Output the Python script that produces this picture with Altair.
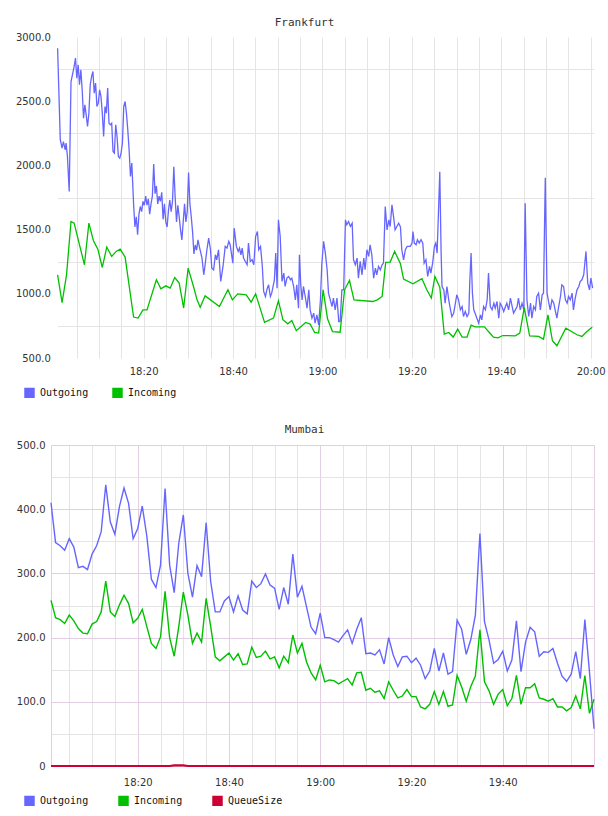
import altair as alt
import pandas as pd

DAY = "2024-01-01"

# ---------------- Frankfurt ----------------
# (minutes after 18:00:45, messages)
FRA_START = "18:00:45"
FRA_OUT = [
    (0.0, 2913), (0.6, 2200), (1.0, 2134), (1.3, 2186), (1.7, 2121), (1.9, 2174), (2.2, 2069), (2.6, 1797),
    (3.0, 2653), (3.4, 2719), (3.7, 2770), (4.0, 2836), (4.3, 2680), (4.6, 2783), (4.9, 2628), (5.2, 2745),
    (5.5, 2589), (5.8, 2368), (6.1, 2472), (6.4, 2394), (6.7, 2303), (7.0, 2407), (7.3, 2628), (7.6, 2692),
    (7.9, 2731), (8.2, 2563), (8.5, 2641), (8.8, 2459), (9.1, 2485), (9.4, 2589), (9.7, 2537), (10.0, 2407),
    (10.3, 2225), (10.6, 2459), (10.9, 2407), (11.2, 2602), (11.5, 2329), (11.8, 2316), (12.1, 2329),
    (12.4, 2108), (12.7, 2096), (13.0, 2316), (13.3, 2225), (13.6, 2069), (13.9, 2056), (14.2, 2096),
    (14.5, 2174), (14.8, 2459), (15.1, 2498), (15.4, 2407), (15.7, 2277), (16.0, 2121), (16.3, 1914),
    (16.6, 2018), (16.9, 1784),
    (17.0, 1700), (17.3, 1520), (17.6, 1600), (17.9, 1460), (18.2, 1620), (18.5, 1680), (18.8, 1640),
    (19.1, 1720), (19.4, 1690), (19.7, 1760), (20.0, 1690), (20.3, 1740), (20.6, 1620), (20.9, 1700),
    (21.2, 1760), (21.5, 2010), (21.8, 1780), (22.1, 1840), (22.4, 1700), (22.7, 1760), (23.0, 1720),
    (23.3, 1790), (23.6, 1580), (23.9, 1700), (24.2, 1560), (24.5, 1520), (24.8, 1650), (25.1, 1730),
    (25.4, 1640), (25.7, 1720), (26.0, 1990), (26.3, 1750), (26.6, 1560), (26.9, 1690), (27.2, 1600),
    (27.5, 1500), (27.8, 1420), (28.1, 1560), (28.4, 1700), (28.7, 1560), (29.0, 1640), (29.3, 1945),
    (29.6, 1700), (29.9, 1600), (30.2, 1480), (30.5, 1310), (30.8, 1380), (31.1, 1340), (31.4, 1420),
    (31.7, 1370),
    (32.3, 1278), (32.7, 1148), (33.0, 1226), (33.4, 1343), (33.8, 1433), (34.2, 1343), (34.5, 1200),
    (34.9, 1187), (35.3, 1304), (35.6, 1265), (36.0, 1343), (36.5, 1096), (37.0, 1213), (37.5, 1369),
    (37.9, 1356), (38.3, 1408), (38.6, 1382), (39.2, 1239), (39.5, 1511), (40.0, 1369), (40.4, 1330),
    (40.7, 1356), (41.0, 1304), (41.3, 1356), (41.6, 1278), (42.0, 1252), (42.4, 1226), (42.7, 1395),
    (43.1, 1252), (43.5, 1265), (43.9, 1226), (44.3, 1446), (44.7, 1485), (45.0, 1343), (45.4, 1369),
    (45.8, 1213), (46.1, 1018), (46.5, 979), (46.8, 1031), (47.2, 1070), (47.6, 979), (47.9, 1005),
    (48.5, 1109), (48.8, 1317), (49.1, 1044), (49.4, 1576), (49.8, 1446), (50.2, 1096), (50.6, 1161),
    (50.9, 1057), (51.3, 1122), (51.7, 1135), (52.1, 1109), (52.4, 1122), (52.8, 1057), (53.2, 953),
    (53.5, 1070), (53.9, 888), (54.1, 1304), (54.4, 1070), (54.7, 953), (55.0, 1057), (55.4, 979),
    (55.8, 888), (56.2, 1031), (56.5, 875), (56.9, 810), (57.3, 849), (57.6, 771), (58.0, 836),
    (58.4, 758), (58.8, 953), (59.1, 1226), (59.5, 1408), (59.9, 1317), (60.3, 1187), (60.6, 1005),
    (61.0, 953), (61.4, 901), (61.7, 966), (62.1, 875), (62.5, 966), (62.9, 784), (63.2, 784),
    (63.6, 1031), (64.0, 1031), (64.4, 1576), (64.7, 1537), (65.1, 1563), (65.5, 1524), (65.9, 1550),
    (66.2, 1265), (66.6, 1226), (67.0, 1278), (67.3, 1122), (67.7, 1252), (68.1, 1148), (68.5, 1278),
    (68.8, 1187), (69.2, 1343), (69.6, 1291), (69.9, 1382), (70.3, 1304), (70.7, 1122), (71.1, 1200),
    (71.4, 1148), (71.8, 1213), (72.2, 1187), (72.6, 1226), (72.9, 1239), (73.3, 1680), (73.7, 1498),
    (74.1, 1576), (74.4, 1524), (74.8, 1693), (75.2, 1589), (75.5, 1498), (75.9, 1524), (76.3, 1550),
    (76.7, 1520),
    (77.0, 1343), (77.4, 1265), (77.8, 1343), (78.2, 1369), (78.5, 1369), (78.9, 1369), (79.3, 1395),
    (79.5, 1485), (79.8, 1395), (80.2, 1382), (80.5, 1421), (80.9, 1395), (81.3, 1421), (81.7, 1395),
    (82.0, 1239), (82.4, 1265), (82.8, 1135), (83.2, 1213), (83.5, 1161), (83.9, 1239), (84.3, 1369),
    (84.6, 1395), (84.9, 1317), (85.2, 1628), (85.5, 1950), (85.8, 1317), (86.0, 1057), (86.4, 1031),
    (86.7, 927), (87.1, 1057), (87.5, 953), (87.9, 875), (88.2, 823), (88.6, 849), (89.0, 927),
    (89.3, 992), (89.7, 953), (90.1, 875), (90.5, 901), (90.8, 823), (91.2, 862), (91.6, 823),
    (92.0, 849), (92.2, 1083), (92.5, 1317), (92.8, 1005), (93.1, 875), (93.4, 849), (93.8, 810),
    (94.2, 771), (94.6, 836), (94.9, 797), (95.3, 901), (95.7, 875), (96.1, 953), (96.4, 1161),
    (96.8, 901), (97.2, 875), (97.6, 927), (97.9, 888), (98.3, 940), (98.7, 810), (99.0, 927),
    (99.4, 901), (99.8, 862), (100.2, 901), (100.5, 927), (100.9, 875), (101.3, 966), (101.7, 901),
    (102.0, 849), (102.4, 875), (102.8, 901), (103.1, 966), (103.5, 875), (103.9, 927), (104.3, 875),
    (104.6, 1706), (105.0, 953), (105.4, 823), (105.8, 927), (106.1, 810), (106.5, 901), (106.9, 875),
    (107.2, 979), (107.6, 1005), (108.0, 875), (108.4, 992), (108.7, 1005), (109.1, 1904), (109.5, 1005),
    (109.9, 927), (110.2, 875), (110.6, 953), (111.0, 927), (111.3, 875), (111.7, 810), (112.1, 901),
    (112.5, 979), (112.8, 1070), (113.2, 1057), (113.6, 953), (114.0, 927), (114.3, 979), (114.7, 953),
    (115.1, 1005), (115.4, 875), (115.8, 966), (116.2, 1031), (116.6, 1057), (116.9, 1096), (117.3, 1109),
    (117.7, 1148), (118.2, 1330), (118.6, 1083), (119.0, 1031), (119.3, 1122), (119.7, 1044),
]
FRA_IN = [
    (0.0, 1148), (1.0, 932), (2.0, 1148), (3.0, 1563), (3.7, 1550), (6.0, 1226), (7.0, 1550),
    (8.0, 1415), (9.0, 1348), (10.0, 1205), (11.0, 1364), (12.1, 1291), (13.1, 1330), (14.0, 1348),
    (15.1, 1286), (17.0, 819), (18.0, 811), (19.1, 875), (20.0, 875), (22.1, 1109), (23.1, 1039),
    (24.2, 1062), (25.2, 1044), (26.2, 1127), (27.2, 1083), (28.2, 889), (29.2, 1200), (30.4, 1057),
    (31.2, 953), (31.9, 895), (33.0, 984), (36.2, 901), (38.1, 1031), (39.1, 953), (40.3, 999),
    (42.2, 991), (43.3, 935), (44.3, 999), (46.3, 777), (48.3, 811), (49.4, 945), (50.4, 798),
    (51.5, 766), (52.4, 792), (53.4, 712), (55.5, 777), (56.5, 764), (57.5, 699), (58.4, 694),
    (59.4, 1031), (60.4, 803), (61.5, 706), (63.2, 701), (64.2, 1031), (65.3, 1104), (66.3, 953),
    (70.5, 940), (71.5, 953), (72.6, 979), (73.4, 1244), (74.4, 1247), (75.4, 1330), (76.7, 1234),
    (77.4, 1115), (79.5, 1078), (81.5, 1117), (82.6, 1031), (83.6, 967), (84.4, 1135), (85.5, 1052),
    (86.5, 686), (87.5, 699), (88.5, 663), (89.5, 725), (90.5, 663), (91.6, 663), (92.5, 756),
    (93.4, 743), (95.5, 743), (96.4, 706), (97.5, 663), (98.5, 657), (99.6, 675), (102.4, 673),
    (103.4, 694), (104.4, 893), (105.6, 673), (107.6, 668), (108.7, 647), (109.7, 836), (110.7, 634),
    (111.7, 595), (113.7, 733), (116.2, 681), (117.3, 668), (118.4, 706), (119.6, 740),
]

# ---------------- Mumbai ----------------
# one sample per minute, 18:01 .. 20:00
MUM_START = "18:01"
MUM_OUT = [
    410, 348, 343, 336, 354, 341, 309, 311, 306, 330,
    343, 365, 438, 380, 361, 404, 433, 409, 354, 370,
    405, 358, 291, 278, 313, 432, 313, 270, 347, 391,
    300, 263, 312, 295, 379, 287, 240, 240, 257, 264,
    240, 265, 243, 237, 288, 278, 284, 299, 282, 277,
    244, 278, 252, 330, 263, 280, 248, 216, 206, 238,
    200, 200, 197, 193, 203, 212, 191, 213, 231, 175,
    176, 173, 181, 159, 200, 173, 155,
    170, 171, 161, 168, 157, 136, 148, 183, 148, 176,
    143, 147, 227, 213, 174, 197, 235, 362, 225, 196,
    160, 166, 179, 148, 165, 226, 147, 193, 216, 209,
    171, 178, 177, 183, 160, 140, 132, 143, 178, 136,
    228, 147, 58,
]
MUM_IN = [
    258, 231, 228, 222, 235, 226, 214, 207, 206, 221,
    225, 240, 288, 240, 233, 251, 266, 253, 223, 230,
    244, 217, 191, 183, 201, 272, 200, 171, 217, 271,
    235, 191, 207, 193, 261, 217, 170, 164, 170, 176,
    165, 175, 158, 159, 185, 169, 171, 179, 167, 170,
    153, 171, 161, 204, 176, 191, 162, 145, 134, 157,
    131, 134, 133, 128, 132, 136, 126, 145, 146, 118,
    121, 115, 117, 105, 131, 118, 106,
    109, 119, 108, 108, 92, 89, 96, 116, 96, 116,
    93, 95, 141, 123, 101, 124, 140, 212, 131, 117,
    96, 112, 119, 94, 105, 141, 96, 122, 122, 128,
    106, 104, 101, 105, 92, 92, 86, 91, 109, 89,
    141, 82, 104,
]
MUM_QUEUE = [
    0, 0, 0, 0, 0, 0, 0, 0, 0, 0,
    0, 0, 0, 0, 0, 0, 0, 0, 0, 0,
    0, 0, 0, 0, 0, 0, 0, 1, 1, 1,
    0, 0, 0, 0, 0, 0, 0, 0, 0, 0,
    0, 0, 0, 0, 0, 0, 0, 0, 0, 0,
    0, 0, 0, 0, 0, 0, 0, 0, 0, 0,
    0, 0, 0, 0, 0, 0, 0, 0, 0, 0,
    0, 0, 0, 0, 0, 0, 0, 0, 0, 0,
    0, 0, 0, 0, 0, 0, 0, 0, 0, 0,
    0, 0, 0, 0, 0, 0, 0, 0, 0, 0,
    0, 0, 0, 0, 0, 0, 0, 0, 0, 0,
    0, 0, 0, 0, 0, 0, 0, 0, 0, 0,
]

BLUE, GREEN, RED = "#6666ff", "#00c000", "#cc0033"
GRID, PINK = "#e4e4e4", "#e3cde3"
MONO, SANS = "DejaVu Sans Mono", "DejaVu Sans"

PANEL_W, PANEL_H = 543, 321
FRA_INSET = 6.6  # the Frankfurt plot starts a little to the right of Mumbai's


def at(clock, minutes=0.0):
    return pd.Timestamp(f"{DAY} {clock}", tz="UTC") + pd.to_timedelta(minutes, unit="m")


def dt(h, m, s=0):
    return alt.DateTime(year=2024, month=1, date=1, hours=h, minutes=m, seconds=s, utc=True)


def five_minute_marks(first, last):
    out, cur = [], first
    while cur <= last:
        out.append(dt(cur // 60, cur % 60))
        cur += 5
    return out


rows = []
for t, v in FRA_OUT:
    rows.append({"time": at(FRA_START, t), "value": v, "series": "Outgoing"})
for t, v in FRA_IN:
    rows.append({"time": at(FRA_START, t), "value": v, "series": "Incoming"})
fra = pd.DataFrame(rows)

rows = []
for name, vals in (("Outgoing", MUM_OUT), ("Incoming", MUM_IN), ("QueueSize", MUM_QUEUE)):
    for i, v in enumerate(vals):
        rows.append({"time": at(MUM_START, i), "value": v, "series": name})
mum = pd.DataFrame(rows)

time_label = "utcminutes(datum.value) % 20 == 0 ? utcFormat(datum.value, '%H:%M') : ''"


def legend(x, y):
    return alt.Legend(
        title=None, orient="none", legendX=x, legendY=y, direction="horizontal",
        symbolType="square", symbolSize=30, symbolStrokeWidth=5, gridAlign="all",
        columnPadding=15, labelOffset=5, labelFont=MONO, labelFontSize=10, labelColor="#111",
    )


fra_chart = alt.Chart(
    fra,
    title=alt.TitleParams("Frankfurt", dx=-18, offset=4.5),
).mark_line(interpolate="linear").encode(
    x=alt.X(
        "time:T", title=None,
        scale=alt.Scale(type="utc", domain=[dt(18, 0, 45), dt(20, 0, 45)], range=[FRA_INSET, PANEL_W]),
        axis=alt.Axis(values=five_minute_marks(18 * 60 + 5, 20 * 60), labelExpr=time_label,
                      gridColor=GRID, labelPadding=8, labelOverlap=False, labelFlush=False),
    ),
    y=alt.Y(
        "value:Q", title=None,
        scale=alt.Scale(domain=[500, 3000], nice=False, zero=False),
        axis=alt.Axis(values=list(range(500, 3001, 250)),
                      labelExpr="datum.value % 500 == 0 ? format(datum.value, '.1f') : ''",
                      gridColor=GRID,
                      gridOpacity={"condition": {"test": "datum.value % 500 == 0", "value": 0}, "value": 1},
                      labelPadding=0.6, labelOverlap=False),
    ),
    color=alt.Color("series:N", scale=alt.Scale(domain=["Outgoing", "Incoming"], range=[BLUE, GREEN]),
                    legend=legend(-27, 350)),
    strokeWidth=alt.value(1.3),
).properties(width=PANEL_W, height=PANEL_H)

mum_chart = alt.Chart(
    mum,
    title=alt.TitleParams("Mumbai", dx=-18, offset=5),
    view=alt.ViewBackground(stroke=PINK, strokeOpacity=1, strokeWidth=1),
).mark_line(interpolate="linear").encode(
    x=alt.X(
        "time:T", title=None,
        scale=alt.Scale(type="utc", domain=[dt(18, 1), dt(20, 0)]),
        axis=alt.Axis(values=five_minute_marks(18 * 60 + 5, 19 * 60 + 55), labelExpr=time_label,
                      gridColor={"condition": {"test": "utcminutes(datum.value) % 20 == 0", "value": PINK},
                                 "value": GRID},
                      labelPadding=11, labelOverlap=False, labelFlush=False),
    ),
    y=alt.Y(
        "value:Q", title=None,
        scale=alt.Scale(domain=[0, 500], nice=False),
        axis=alt.Axis(values=list(range(0, 501, 50)),
                      labelExpr="datum.value % 100 == 0 ? (datum.value == 0 ? '0' : format(datum.value, '.1f')) : ''",
                      gridColor={"condition": {"test": "datum.value % 100 == 0", "value": PINK}, "value": GRID},
                      labelPadding=6, labelOverlap=False),
    ),
    color=alt.Color("series:N",
                    scale=alt.Scale(domain=["Outgoing", "Incoming", "QueueSize"], range=[BLUE, GREEN, RED]),
                    legend=legend(-27, 350)),
    strokeWidth=alt.condition(alt.datum.series == "QueueSize", alt.value(2.2), alt.value(1.4)),
).properties(width=PANEL_W, height=PANEL_H)

chart = alt.concat(
    fra_chart, mum_chart, columns=1, spacing=17,
    padding={"left": 15, "top": 16, "right": 0, "bottom": 0},
).resolve_scale(color="independent").resolve_legend(color="independent").configure_view(
    strokeOpacity=0
).configure_axis(
    ticks=False, domain=False, labelFont=SANS, labelFontSize=10, labelColor="#333", gridWidth=1,
).configure_title(
    font=MONO, fontSize=11, fontWeight="normal", color="#333", anchor="middle",
)

chart.save("out.html", embed_options={"renderer": "svg", "actions": False})
